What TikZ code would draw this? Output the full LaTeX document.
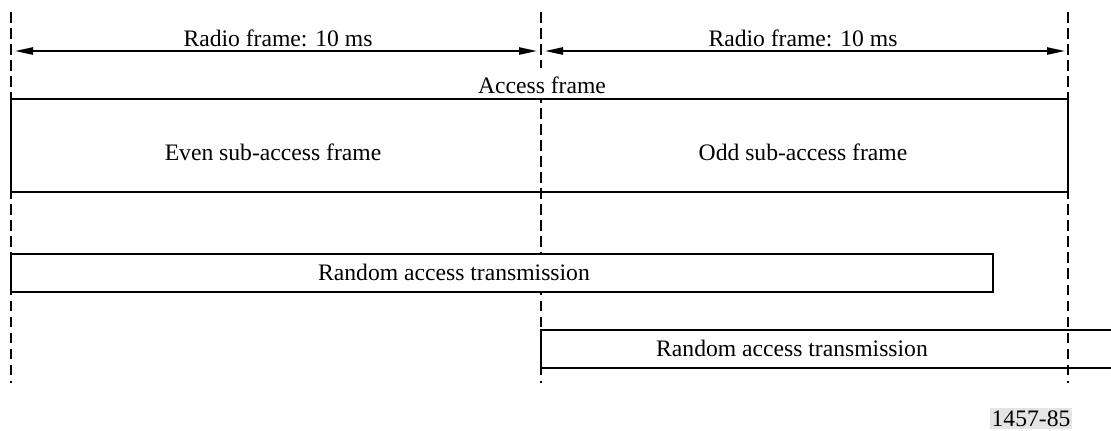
\documentclass[tikz,border=0pt]{standalone}
\usepackage{fontspec}
\setmainfont{Liberation Serif}
\usetikzlibrary{arrows.meta,positioning,calc}
\definecolor{Ink}{HTML}{000000}
\definecolor{Tag}{HTML}{E4E4E4}
\tikzset{
  txt/.style={font=\fontsize{16.8}{20}\selectfont,text=Ink,inner sep=0pt,anchor=base},
  frm/.style={draw=Ink,line width=1.4pt},
  bnd/.style={draw=Ink,line width=2.1pt,dash pattern=on 7.6pt off 3.8pt},
  arr/.style={{Triangle[length=4.5mm,width=1.8mm]}-{Triangle[length=4.5mm,width=1.8mm]},line width=1.3pt,draw=Ink},
}
\begin{document}
\begin{tikzpicture}[x=0.025cm,y=-0.025cm,line join=miter]
\useasboundingbox (0,0) rectangle (1111,430);
\coordinate (L0) at (11,12);   \coordinate (L1) at (11,383);
\coordinate (M0) at (541,12);  \coordinate (M1) at (541,383);
\coordinate (R0) at (1068,12); \coordinate (R1) at (1068,383);
\coordinate (a1) at (15,51);  \coordinate (a2) at (537,51);
\coordinate (b1) at (545,51); \coordinate (b2) at (1065,51);
% access frame and second transmission
\draw[frm] (11,99) rectangle (1068,192);
\draw[frm] (1111,330) -| (541,368) -- (1111,368);
% frame boundaries
\draw[bnd] (L0) -- (L1);
\draw[bnd] (M0) -- (M1);
\draw[bnd] (R0) -- (R1);
% first transmission
\draw[frm,fill=white] (11,254) rectangle (993,292);
\draw[arr] (a1) -- (a2);
\draw[arr] (b1) -- (b2);
\node[txt] (rf1) at (278,46.7) {Radio frame: 10 ms};
\node[txt] (rf2) at (803,46.7) {Radio frame: 10 ms};
\node[txt,fill=white,inner xsep=2pt,text height=6.3mm,text depth=1.1mm] (acc) at (542,93.3) {Access frame};
\node[txt] (even) at (273,160) {Even sub-access frame};
\node[txt] (odd) at (803,160) {Odd sub-access frame};
\node[txt] (ra1) at (454,280.7) {Random access transmission};
\node[txt] (ra2) at (792,356.7) {Random access transmission};
\node[txt,fill=Tag,inner xsep=1pt,inner ysep=2pt] (fig) at (1031,426.3) {1457-85};
\end{tikzpicture}
\end{document}
